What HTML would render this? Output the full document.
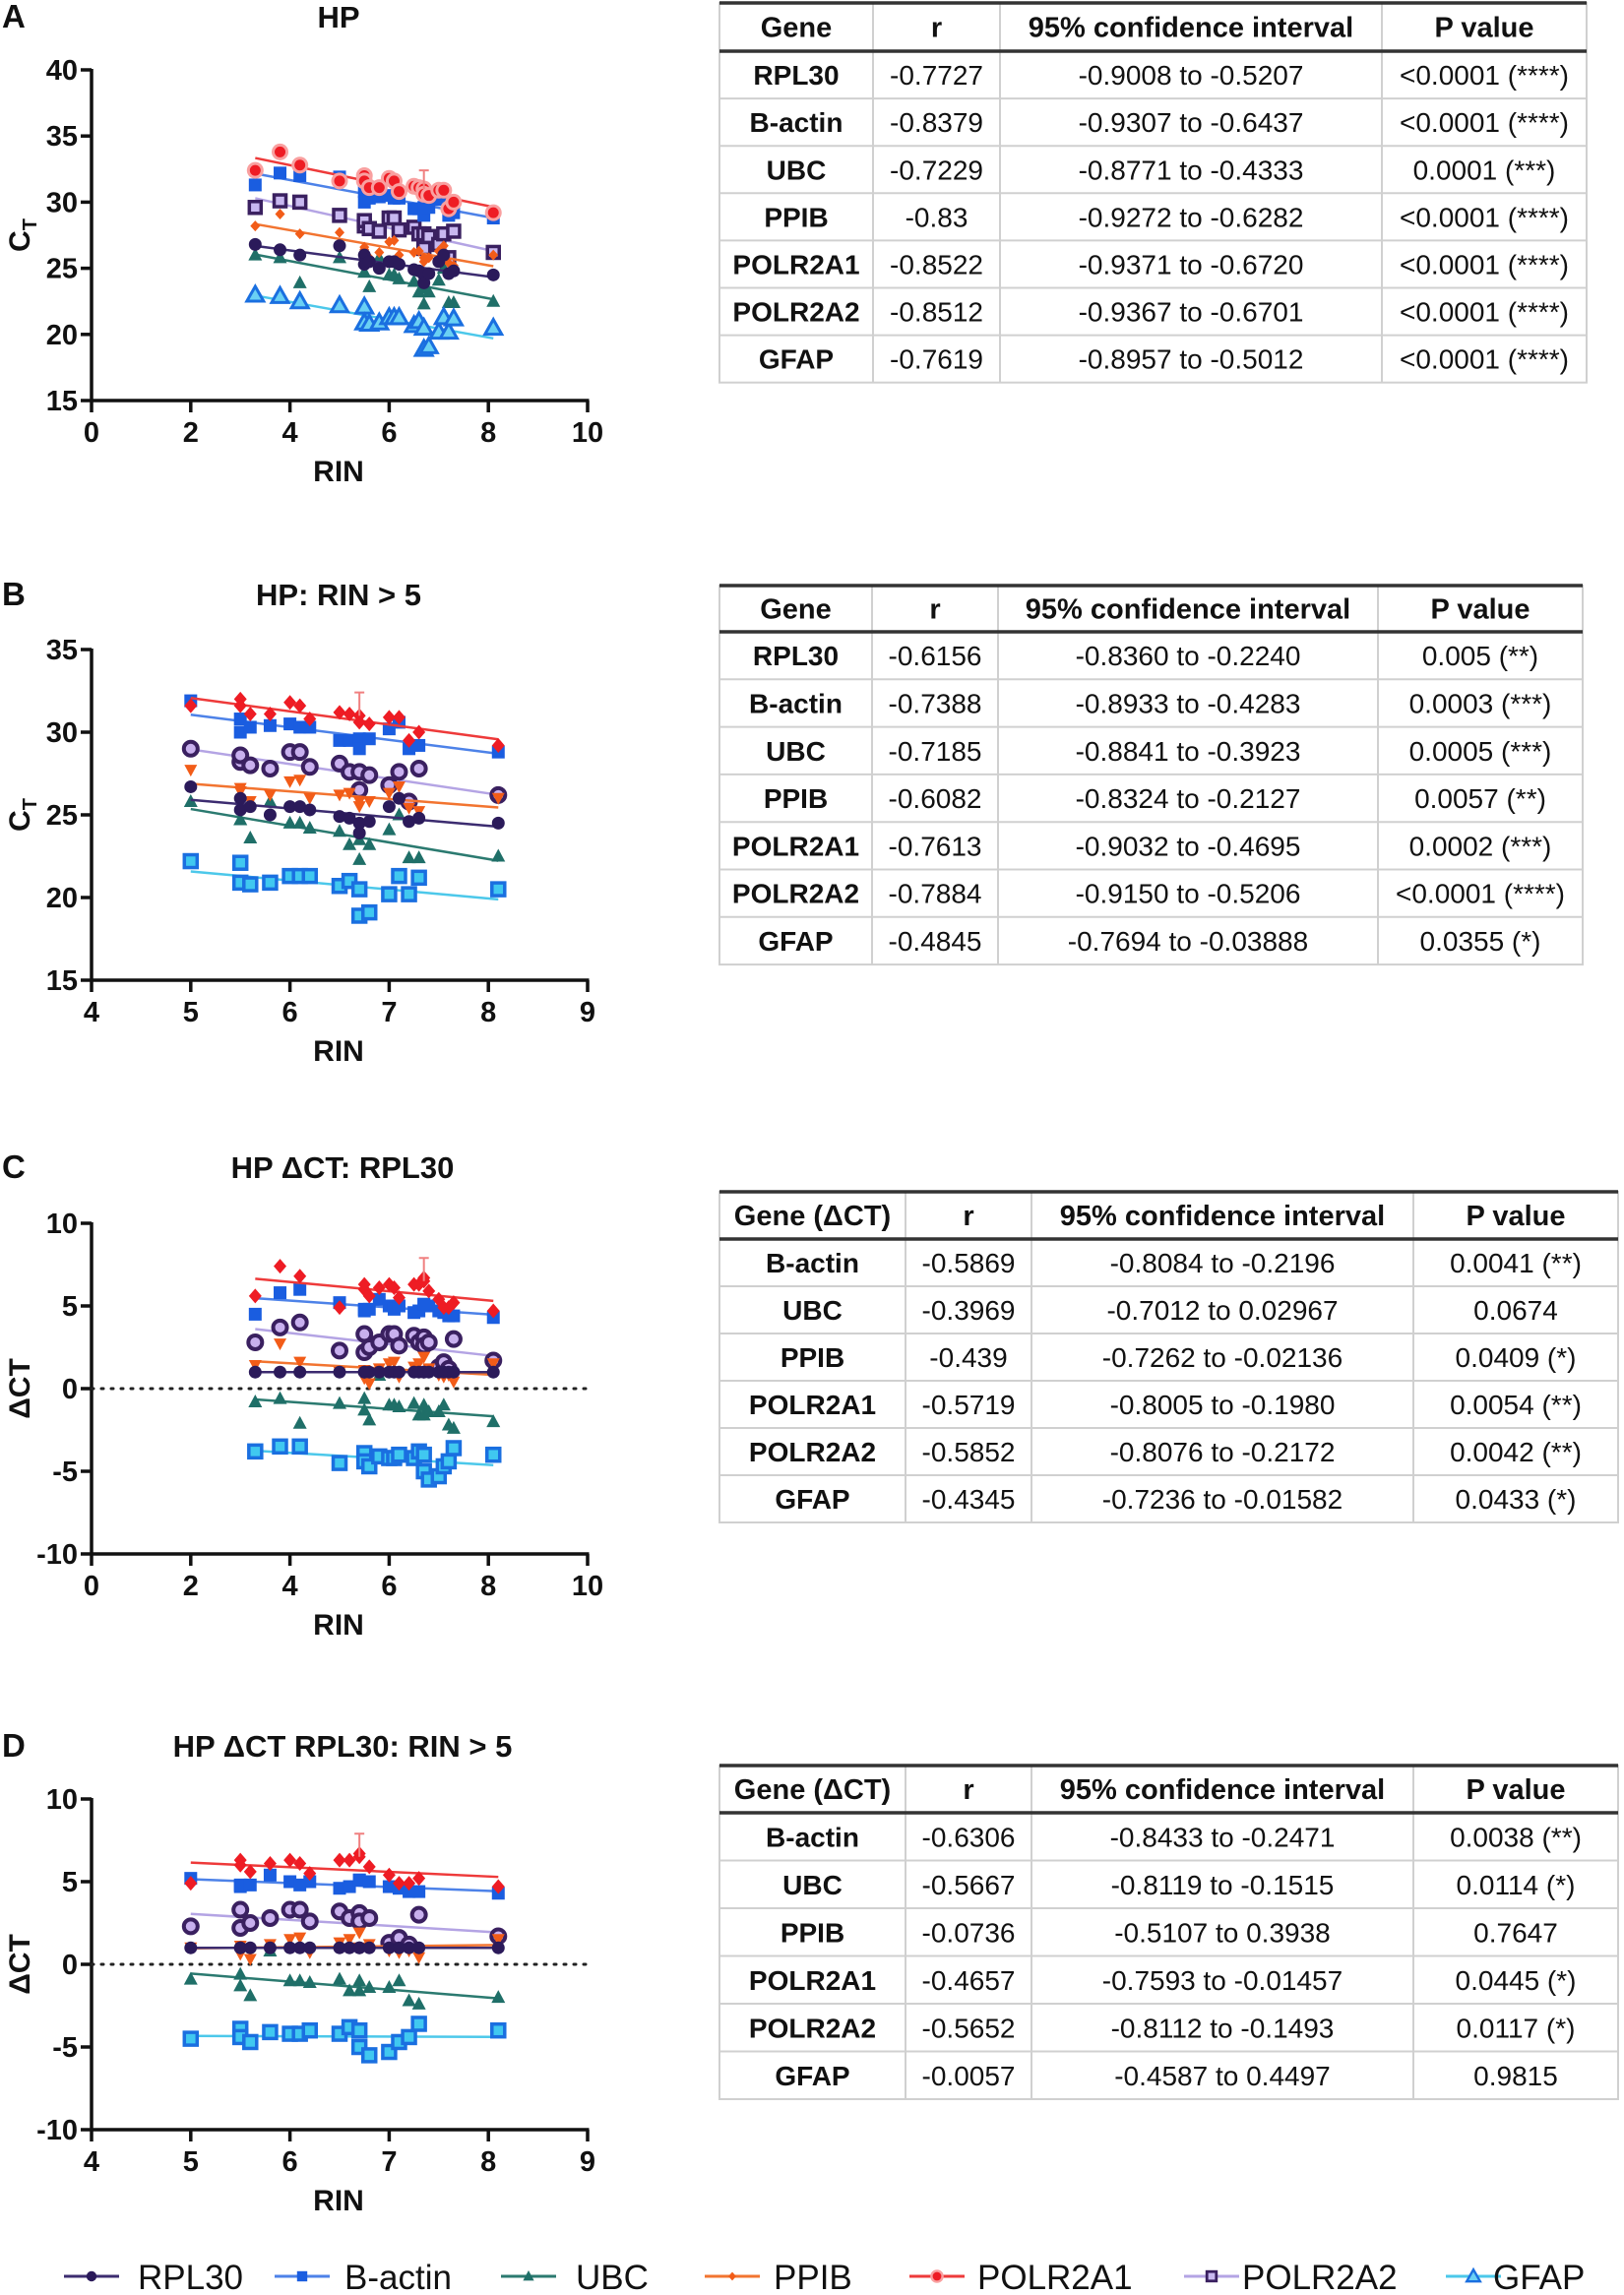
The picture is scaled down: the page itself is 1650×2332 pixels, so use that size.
<!DOCTYPE html>
<html><head><meta charset="utf-8"><style>
html,body{margin:0;padding:0;background:#fff;}
svg{display:block;font-family:"Liberation Sans",Arial,sans-serif;}
</style></head><body>
<svg id="fig" width="1650" height="2332" viewBox="0 0 1650 2332" xmlns="http://www.w3.org/2000/svg"></svg>
<script>
// ---- data ----
const rinAll = [3.3,3.8,4.2,5.0,5.5,5.5,5.6,5.8,6.0,6.1,6.2,6.5,6.6,6.7,6.7,6.8,7.0,7.1,7.2,7.3,8.1];
const ctRPL30   = [26.8,26.4,26.0,26.7,26.0,25.3,25.5,25.0,25.5,25.5,25.3,24.9,24.8,24.5,23.9,24.6,25.5,26.0,24.6,24.8,24.5];
const ctBactin  = [31.3,32.2,32.0,31.9,30.8,30.0,30.3,30.4,30.5,30.3,30.3,29.5,29.5,29.6,29.0,29.6,30.2,30.6,29.0,29.2,28.8];
const ctUBC     = [26.0,25.8,23.9,25.8,24.7,24.7,23.6,25.8,24.5,24.5,24.2,24.0,23.2,23.5,22.3,23.2,24.1,25.0,22.4,22.4,22.5];
const ctPPIB    = [28.2,29.1,27.6,27.7,26.6,26.4,25.8,26.2,27.0,27.1,26.0,26.2,26.3,25.5,25.8,25.8,26.3,26.7,25.4,25.2,26.0];
const ctPOLR2A1 = [32.4,33.8,32.8,31.6,32.0,31.6,31.1,31.1,31.8,31.6,30.8,31.2,31.1,31.0,30.6,30.5,30.9,30.9,29.5,30.0,29.2];
const ctPOLR2A2 = [29.6,30.1,30.0,29.0,28.2,28.6,28.0,27.8,28.8,28.8,27.9,28.1,27.6,27.6,26.5,27.4,26.8,27.6,25.8,27.8,26.2];
const ctGFAP    = [23.0,22.9,22.5,22.2,22.1,20.9,20.8,20.9,21.3,21.3,21.3,20.7,21.0,20.5,18.9,19.1,20.2,21.3,20.2,21.2,20.5];
const dRPL30   = [1,1,1,1,1,1,1,1,1,1,1,1,1,1,1,1,1,1,1,1,1];
const dBactin  = [4.5,5.8,6.0,5.2,4.8,4.7,4.8,5.4,5.0,4.8,5.0,4.6,4.7,5.1,5.1,5.0,4.7,4.6,4.4,4.4,4.3];
const dUBC     = [-0.8,-0.6,-2.1,-0.9,-1.3,-0.6,-1.9,0.8,-1.0,-1.0,-1.1,-0.9,-1.6,-1.0,-1.6,-1.4,-1.4,-1.0,-2.2,-2.4,-2.0];
const dPPIB    = [1.4,2.7,1.6,1.0,0.6,1.1,0.3,1.2,1.5,1.6,0.7,1.3,1.5,1.0,1.9,1.2,0.8,0.7,0.8,0.4,1.5];
const dPOLR2A1 = [5.6,7.4,6.8,4.9,6.0,6.3,5.6,6.1,6.3,6.1,5.5,6.3,6.3,6.5,6.7,5.9,5.4,4.9,4.9,5.2,4.7];
const dPOLR2A2 = [2.8,3.7,4.0,2.3,2.2,3.3,2.5,2.8,3.3,3.3,2.6,3.2,2.8,3.1,2.6,2.8,1.3,1.6,1.2,3.0,1.7];
const dGFAP    = [-3.8,-3.5,-3.5,-4.5,-3.9,-4.4,-4.7,-4.1,-4.2,-4.2,-4.0,-4.2,-3.8,-4.0,-5.0,-5.5,-5.3,-4.7,-4.4,-3.6,-4.0];
const geneNames = ["RPL30","B-actin","UBC","PPIB","POLR2A1","POLR2A2","GFAP"];
const xTicksFull = [0,2,4,6,8,10];
const xTicksSub = [4,5,6,7,8,9];
const yTicksCT = [15,20,25,30,35,40];
const yTicksCT2 = [15,20,25,30,35];
const yTicksD = [-10,-5,0,5,10];

const tableA = [["RPL30","-0.7727","-0.9008 to -0.5207","<0.0001 (****)"],["B-actin","-0.8379","-0.9307 to -0.6437","<0.0001 (****)"],["UBC","-0.7229","-0.8771 to -0.4333","0.0001 (***)"],["PPIB","-0.83","-0.9272 to -0.6282","<0.0001 (****)"],["POLR2A1","-0.8522","-0.9371 to -0.6720","<0.0001 (****)"],["POLR2A2","-0.8512","-0.9367 to -0.6701","<0.0001 (****)"],["GFAP","-0.7619","-0.8957 to -0.5012","<0.0001 (****)"]];
const tableB = [["RPL30","-0.6156","-0.8360 to -0.2240","0.005 (**)"],["B-actin","-0.7388","-0.8933 to -0.4283","0.0003 (***)"],["UBC","-0.7185","-0.8841 to -0.3923","0.0005 (***)"],["PPIB","-0.6082","-0.8324 to -0.2127","0.0057 (**)"],["POLR2A1","-0.7613","-0.9032 to -0.4695","0.0002 (***)"],["POLR2A2","-0.7884","-0.9150 to -0.5206","<0.0001 (****)"],["GFAP","-0.4845","-0.7694 to -0.03888","0.0355 (*)"]];
const tableC = [["B-actin","-0.5869","-0.8084 to -0.2196","0.0041 (**)"],["UBC","-0.3969","-0.7012 to 0.02967","0.0674"],["PPIB","-0.439","-0.7262 to -0.02136","0.0409 (*)"],["POLR2A1","-0.5719","-0.8005 to -0.1980","0.0054 (**)"],["POLR2A2","-0.5852","-0.8076 to -0.2172","0.0042 (**)"],["GFAP","-0.4345","-0.7236 to -0.01582","0.0433 (*)"]];
const tableD = [["B-actin","-0.6306","-0.8433 to -0.2471","0.0038 (**)"],["UBC","-0.5667","-0.8119 to -0.1515","0.0114 (*)"],["PPIB","-0.0736","-0.5107 to 0.3938","0.7647"],["POLR2A1","-0.4657","-0.7593 to -0.01457","0.0445 (*)"],["POLR2A2","-0.5652","-0.8112 to -0.1493","0.0117 (*)"],["GFAP","-0.0057","-0.4587 to 0.4497","0.9815"]];

// ---- rendering ----
const NS="http://www.w3.org/2000/svg";
const svg=document.getElementById('fig');
function mk(tag,attrs,parent){const e=document.createElementNS(NS,tag);for(const k in attrs)e.setAttribute(k,attrs[k]);(parent||svg).appendChild(e);return e;}
function txt(s,x,y,size,weight,anchor,parent,fill){const t=mk('text',{x:x,y:y,'font-size':size,'font-weight':weight||'normal','text-anchor':anchor||'middle',fill:fill||'#111'},parent);t.textContent=s;return t;}

const colors={RPL30:'#2b1a5a',"B-actin":'#1a5de0',UBC:'#1f6f68',PPIB:'#f25c18',POLR2A1:'#ee1c24',POLR2A2:'#3a2060',GFAP:'#1a6fe0'};
const lineCol={RPL30:'#3c2c70',"B-actin":'#4d82e8',UBC:'#2b7a70',PPIB:'#f27430',POLR2A1:'#ee3a3a',POLR2A2:'#b4a4e4',GFAP:'#4cc8ea'};

function marker(kind,gene,cx,cy,g,s){
  s=s||1;
  const c=colors[gene];let e;
  if(kind==='circle'){e=mk('circle',{cx:cx,cy:cy,r:6.5*s,fill:c},g);}
  else if(kind==='halo'){mk('circle',{cx:cx,cy:cy,r:8.5*s,fill:'#f9a0a0'},g);e=mk('circle',{cx:cx,cy:cy,r:5.5*s,fill:c},g);}
  else if(kind==='square'){e=mk('rect',{x:cx-6.5*s,y:cy-6.5*s,width:13*s,height:13*s,fill:c},g);}
  else if(kind==='sqo'){e=mk('rect',{x:cx-6*s,y:cy-6*s,width:12*s,height:12*s,fill:'#c8b8f0',stroke:c,'stroke-width':3.5*s},g);}
  else if(kind==='sqcyan'){e=mk('rect',{x:cx-6.5*s,y:cy-6.5*s,width:13*s,height:13*s,fill:'#40c8f0',stroke:'#1a6fe0','stroke-width':3.5*s},g);}
  else if(kind==='tri'){e=mk('path',{d:`M${cx},${cy-7.5*s}L${cx+7*s},${cy+5.5*s}L${cx-7*s},${cy+5.5*s}Z`,fill:c},g);}
  else if(kind==='trio'){e=mk('path',{d:`M${cx},${cy-8.5*s}L${cx+8.5*s},${cy+6.5*s}L${cx-8.5*s},${cy+6.5*s}Z`,fill:'#6ad0f4',stroke:c,'stroke-width':3*s},g);}
  else if(kind==='tridown'){e=mk('path',{d:`M${cx-6.5*s},${cy-5.5*s}L${cx+6.5*s},${cy-5.5*s}L${cx},${cy+6.5*s}Z`,fill:c},g);}
  else if(kind==='diamond'){e=mk('path',{d:`M${cx},${cy-5.5*s}L${cx+5*s},${cy}L${cx},${cy+5.5*s}L${cx-5*s},${cy}Z`,fill:c},g);}
  else if(kind==='diamondL'){e=mk('path',{d:`M${cx},${cy-7.5*s}L${cx+6.5*s},${cy}L${cx},${cy+7.5*s}L${cx-6.5*s},${cy}Z`,fill:c},g);}
  else if(kind==='ring'){e=mk('circle',{cx:cx,cy:cy,r:7*s,fill:'#c8b0ee',stroke:c,'stroke-width':4*s},g);}
  return e;
}

const kindsA={RPL30:'circle',"B-actin":'square',UBC:'tri',PPIB:'diamond',POLR2A1:'halo',POLR2A2:'sqo',GFAP:'trio'};
const kindsB={RPL30:'circle',"B-actin":'square',UBC:'tri',PPIB:'tridown',POLR2A1:'diamondL',POLR2A2:'ring',GFAP:'sqcyan'};

function fit(xs,ys){const n=xs.length;let mx=0,my=0;for(let i=0;i<n;i++){mx+=xs[i];my+=ys[i];}mx/=n;my/=n;let sxy=0,sxx=0;for(let i=0;i<n;i++){sxy+=(xs[i]-mx)*(ys[i]-my);sxx+=(xs[i]-mx)**2;}const b=sxy/sxx;return [b,my-b*mx];}

function panel(o){
  const g=mk('g',{});
  
  
  const X0=93,X1=597;
  const sx=v=>X0+(v-o.xd[0])/(o.xd[1]-o.xd[0])*(X1-X0);
  const sy=v=>o.py[1]-(v-o.yd[0])/(o.yd[1]-o.yd[0])*(o.py[1]-o.py[0]);
  const lt=txt(o.letter,2,o.titleY+11,33,'bold','start',g);
  
  const tt=txt(o.title,o.titleX,o.titleY+11,31,'bold','middle',g);
  
  const ax=mk('g',{},g);
  
  mk('line',{x1:X0,y1:o.py[0]-1,x2:X0,y2:o.py[1]+1.5,stroke:'#111','stroke-width':3.5},ax);
  mk('line',{x1:X0-1.5,y1:o.py[1],x2:X1+1.5,y2:o.py[1],stroke:'#111','stroke-width':3.5},ax);
  o.yt.forEach(v=>{mk('line',{x1:X0-11,y1:sy(v),x2:X0,y2:sy(v),stroke:'#111','stroke-width':3.5},ax);
    const t=txt(String(v),X0-14,sy(v)+10,29,'bold','end',ax);});
  o.xt.forEach(v=>{mk('line',{x1:sx(v),y1:o.py[1],x2:sx(v),y2:o.py[1]+12,stroke:'#111','stroke-width':3.5},ax);
    const t=txt(String(v),sx(v),o.py[1]+42,29,'bold','middle',ax);});
  const xl=txt('RIN',344,o.py[1]+82,30,'bold','middle',ax);
  
  const yc=(o.py[0]+o.py[1])/2;
  const yl=mk('text',{x:0,y:0,'font-size':30,'font-weight':'bold','text-anchor':'middle',fill:'#111',transform:`translate(30,${yc}) rotate(-90)`},ax);
  
  if(o.delta){yl.textContent='ΔCT';}
  else{yl.textContent='C';const sub=mk('tspan',{'font-size':20,dy:7},yl);sub.textContent='T';}
  if(o.zero){const z=mk('line',{x1:X0,y1:sy(0),x2:X1,y2:sy(0),stroke:'#222','stroke-width':3,'stroke-dasharray':'2 8','stroke-linecap':'round'},g);
    }
  const order=[5,2,3,0,6,1,4];
  const idx=rinAll.map((x,i)=>i).filter(i=>rinAll[i]>=o.xmin);
  const xs=idx.map(i=>rinAll[i]);
  order.forEach(k=>{
    const gene=geneNames[k];
    const ys=idx.map(i=>o.series[k][i]);
    const sg=mk('g',{},g);
    
    
    const [b,a]=fit(xs,ys);
    const xa=Math.min(...xs),xb=Math.max(...xs);
    const ln=mk('line',{x1:sx(xa),y1:sy(a+b*xa),x2:sx(xb),y2:sy(a+b*xb),stroke:lineCol[gene],'stroke-width':2.5},sg);
    
    xs.forEach((x,j)=>{const m=marker(o.kinds[gene],gene,sx(x),sy(ys[j]),sg);
      
      });
  });
  const ei=rinAll.indexOf(6.7);
  if(ei>=0){const v=o.series[4][ei];const ex=sx(6.7);
    const eb=mk('path',{d:`M${ex},${sy(v)}V${sy(v+1.4)}M${ex-5},${sy(v+1.4)}H${ex+5}`,stroke:'#f08080','stroke-width':2,fill:'none'},g);
    }
}

const ctSeries=[ctRPL30,ctBactin,ctUBC,ctPPIB,ctPOLR2A1,ctPOLR2A2,ctGFAP];
const dSeries=[dRPL30,dBactin,dUBC,dPPIB,dPOLR2A1,dPOLR2A2,dGFAP];
panel({name:'panel-a-chart',letter:'A',title:'HP',titleX:344,titleY:17,xd:[0,10],yd:[15,40],py:[71,407],xt:xTicksFull,yt:yTicksCT,series:ctSeries,kinds:kindsA,xmin:0});
panel({name:'panel-b-chart',letter:'B',title:'HP: RIN > 5',titleX:344,titleY:604,xd:[4,9],yd:[15,35],py:[660,996],xt:xTicksSub,yt:yTicksCT2,series:ctSeries,kinds:kindsB,xmin:5});
panel({name:'panel-c-chart',letter:'C',title:'HP ΔCT: RPL30',titleX:348,titleY:1186,xd:[0,10],yd:[-10,10],py:[1243,1579],xt:xTicksFull,yt:yTicksD,series:dSeries,kinds:kindsB,xmin:0,delta:true,zero:true});
panel({name:'panel-d-chart',letter:'D',title:'HP ΔCT RPL30: RIN > 5',titleX:348,titleY:1774,xd:[4,9],yd:[-10,10],py:[1828,2164],xt:xTicksSub,yt:yTicksD,series:dSeries,kinds:kindsB,xmin:5,delta:true,zero:true});

function table(name,rows,top,headBot,rowH,cols,firstHdr){
  const g=mk('g',{});
  
  
  const L=cols[0],R=cols[cols.length-1],bot=headBot+rowH*rows.length;
  mk('rect',{x:L,y:top,width:R-L,height:bot-top,fill:'#fff',stroke:'#d0d0d0','stroke-width':2},g);
  for(let i=1;i<cols.length-1;i++)mk('line',{x1:cols[i],y1:top,x2:cols[i],y2:bot,stroke:'#d0d0d0','stroke-width':2},g);
  for(let r=1;r<rows.length;r++)mk('line',{x1:L,y1:headBot+r*rowH,x2:R,y2:headBot+r*rowH,stroke:'#d0d0d0','stroke-width':2},g);
  mk('line',{x1:L,y1:top,x2:R,y2:top,stroke:'#333','stroke-width':3.5},g);
  mk('line',{x1:L,y1:headBot,x2:R,y2:headBot,stroke:'#333','stroke-width':3.5},g);
  const hdr=[firstHdr,'r','95% confidence interval','P value'];
  hdr.forEach((h,i)=>{const t=txt(h,(cols[i]+cols[i+1])/2,(top+headBot)/2+10,29,'bold','middle',g);
    });
  rows.forEach((row,r)=>{const cy=headBot+r*rowH+rowH/2+10;
    row.forEach((c,i)=>{const t=txt(c,(cols[i]+cols[i+1])/2,cy,28,i===0?'bold':'normal','middle',g);
      });});
}
table('table-a',tableA,3,52,48.1,[731,887,1016,1404,1612],'Gene');
table('table-b',tableB,595,642,48.3,[731,886,1014,1400,1608],'Gene');
table('table-c',tableC,1211,1259,48,[731,920,1048,1436,1644],'Gene (ΔCT)');
table('table-d',tableD,1794,1842,48.5,[731,920,1048,1436,1644],'Gene (ΔCT)');

const lg=mk('g',{});


const legendMarkX=[93,307,537,744,952,1231,1497];
const legendTextX=[140,350,585,786,993,1262,1517];
geneNames.forEach((gene,i)=>{
  const e=mk('g',{},lg);
  
  
  const cx=legendMarkX[i],cy=2313;
  mk('line',{x1:cx-28,y1:cy,x2:cx+28,y2:cy,stroke:lineCol[gene],'stroke-width':3},e);
  marker(kindsA[gene],gene,cx,cy,e,0.8);
  txt(gene,legendTextX[i],cy+13,35,'normal','start',e);
});
</script>
</body></html>
